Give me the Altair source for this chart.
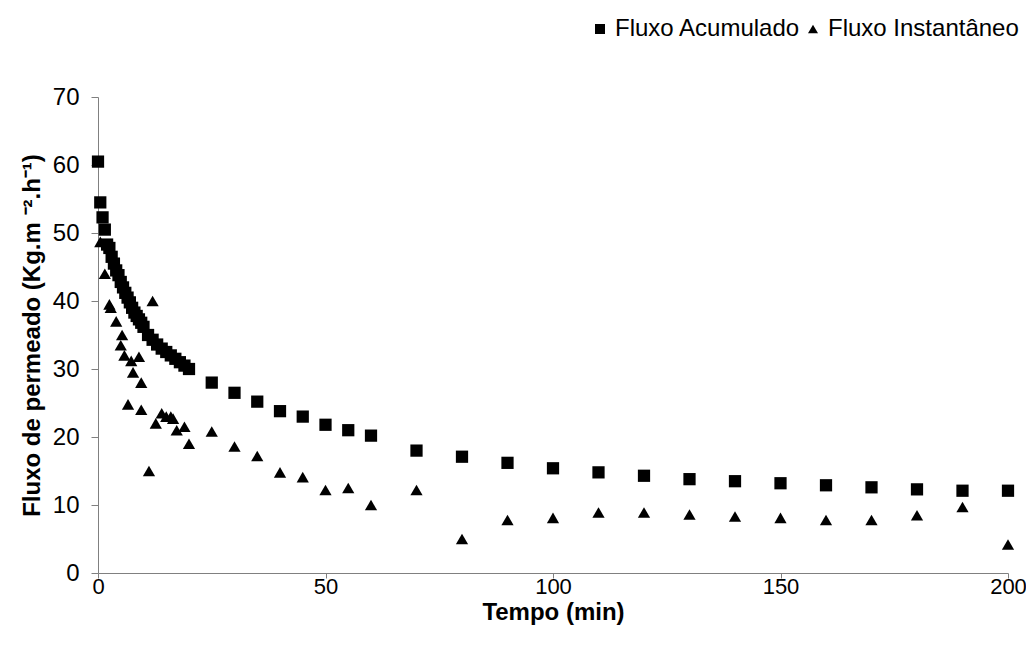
import altair as alt
import pandas as pd

acum_t = [0, 0.5, 1, 1.5, 2, 2.5, 3, 3.5, 4, 4.5, 5, 5.5, 6, 6.5, 7, 7.5, 8, 8.5, 9, 9.5, 10,
          11, 12, 13, 14, 15, 16, 17, 18, 19, 20,
          25, 30, 35, 40, 45, 50, 55, 60, 70, 80, 90, 100, 110, 120, 130, 140, 150, 160, 170, 180, 190, 200]
acum_v = [60.5, 54.5, 52.3, 50.5, 48.3, 47.8, 46.5, 45.5, 44.5, 43.8, 42.8, 42.0, 41.2, 40.5, 39.8, 39.0, 38.3, 37.8, 37.3, 36.8, 36.2,
          35.0, 34.3, 33.6, 33.0, 32.5, 32.0, 31.5, 31.0, 30.5, 30.0,
          28.0, 26.5, 25.2, 23.8, 23.0, 21.8, 21.0, 20.2, 18.0, 17.1, 16.2, 15.4, 14.8, 14.3, 13.8, 13.5, 13.2, 12.9, 12.6, 12.3, 12.1, 12.1]

inst_t = [0, 0.5, 1.5, 2.5, 2.8, 4, 5, 5.3, 5.8, 6.6, 7.3, 7.7, 9, 9.5, 9.5, 11.2, 12, 12.7,
          14, 15, 16, 16.5, 17.3, 19, 20,
          25, 30, 35, 40, 45, 50, 55, 60, 70, 80, 90, 100, 110, 120, 130, 140, 150, 160, 170, 180, 190, 200]
inst_v = [60.5, 48.7, 44.0, 39.5, 39.0, 37.0, 33.5, 35.0, 32.0, 24.8, 31.2, 29.5, 31.8, 28.0, 24.0, 15.0, 40.0, 22.0,
          23.5, 23.0, 23.0, 22.7, 21.0, 21.5, 19.0,
          20.8, 18.6, 17.2, 14.8, 14.1, 12.2, 12.5, 10.0, 12.2, 5.0, 7.8, 8.1, 8.9, 8.9, 8.6, 8.3, 8.1, 7.8, 7.8, 8.5, 9.7, 4.2]

series_names = ["Fluxo Acumulado", "Fluxo Instantâneo"]

df = pd.concat([
    pd.DataFrame({"t": acum_t, "v": acum_v, "s": series_names[0]}),
    pd.DataFrame({"t": inst_t, "v": inst_v, "s": series_names[1]}),
])

font = "Liberation Sans"

chart = alt.Chart(df).mark_point(filled=True, opacity=1, color="black", strokeWidth=0).encode(
    x=alt.X("t:Q", title="Tempo (min)",
            scale=alt.Scale(domain=[0, 200], nice=False, zero=True),
            axis=alt.Axis(values=[0, 50, 100, 150, 200], grid=False, titlePadding=3,
                          tickSize=5, labelPadding=-2, labelFlush=False, labelFontSize=22)),
    y=alt.Y("v:Q", title="Fluxo de permeado (Kg.m ⁻².h⁻¹)",
            scale=alt.Scale(domain=[0, 70], nice=False),
            axis=alt.Axis(values=[0, 10, 20, 30, 40, 50, 60, 70], grid=False, titlePadding=8,
                          tickSize=7, labelPadding=12, labelFlush=False, labelFontSize=24)),
    shape=alt.Shape("s:N", scale=alt.Scale(domain=series_names, range=["square", "triangle-up"]),
                    legend=alt.Legend(title=None, orient="none", legendX=490, legendY=-80,
                                      direction="horizontal", labelFontSize=24, labelFont=font,
                                      labelColor="black", labelLimit=400,
                                      symbolSize=100, symbolFillColor="black",
                                      symbolStrokeWidth=0, columnPadding=0, labelOffset=3)),
    size=alt.value(150),
).properties(
    width=910, height=476,
    autosize=alt.AutoSizeParams(type="none"),
    padding={"left": 90, "top": 89, "right": 18, "bottom": 60},
).configure_axis(
    labelFont=font, labelColor="black",
    titleFont=font, titleFontSize=24, titleFontWeight="bold", titleColor="black",
    domainColor="#808080", tickColor="#808080",
).configure_view(stroke=None)

chart.save("out.html", embed_options={"renderer": "svg", "actions": False})
